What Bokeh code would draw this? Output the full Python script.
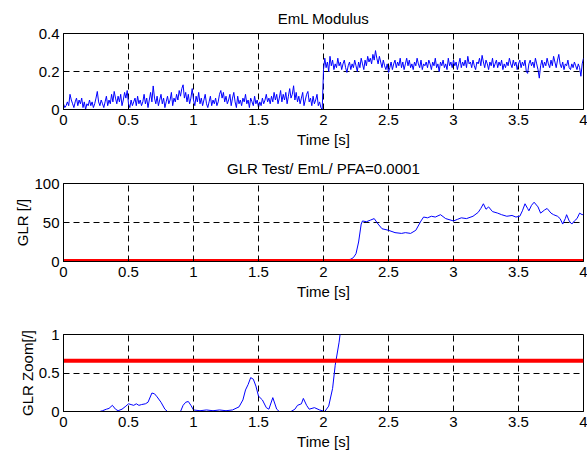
from bokeh.plotting import figure
from bokeh.layouts import column
from bokeh.models import Range1d, FixedTicker
from bokeh.embed import file_html
from bokeh.resources import INLINE

# ---------------- data ----------------
# EmL modulus, sampled every 0.01 s from 0 to 4 s
eml_low = [
    0.03, 0.01, 0.02, 0.04, 0.02, 0.08, 0.05, 0.03, 0.01, 0.04, 0.06, 0.02, 0.05, 0.03, 0.06, 0.01, 0.04, 0.00, 0.03, 0.02,
    0.05, 0.02, 0.04, 0.01, 0.03, 0.06, 0.095, 0.04, 0.02, 0.05, 0.03, 0.01, 0.04, 0.07, 0.02, 0.05, 0.03, 0.08, 0.04, 0.095,
    0.06, 0.03, 0.07, 0.04, 0.08, 0.02, 0.05, 0.09, 0.06, 0.10, 0.03, 0.01, 0.05, 0.02, 0.04, 0.06, 0.02, 0.07, 0.03, 0.05,
    0.02, 0.04, 0.08, 0.03, 0.06, 0.01, 0.05, 0.09, 0.04, 0.124, 0.06, 0.03, 0.07, 0.02, 0.05, 0.08, 0.03, 0.06, 0.01, 0.04,
    0.07, 0.03, 0.05, 0.09, 0.02, 0.06, 0.04, 0.08, 0.05, 0.10, 0.07, 0.11, 0.13, 0.06, 0.09, 0.04, 0.08, 0.03, 0.06, 0.11,
    0.05, 0.02, 0.07, 0.04, 0.09, 0.03, 0.06, 0.02, 0.05, 0.08, 0.03, 0.01, 0.04, 0.07, 0.02, 0.05, 0.03, 0.06, 0.02, 0.04,
    0.08, 0.10, 0.06, 0.09, 0.04, 0.07, 0.03, 0.05, 0.08, 0.02, 0.06, 0.09, 0.04, 0.01, 0.07, 0.03, 0.05, 0.02, 0.06, 0.04,
    0.08, 0.03, 0.05, 0.01, 0.06, 0.04, 0.02, 0.07, 0.03, 0.05, 0.01, 0.04, 0.02, 0.06, 0.03, 0.05, 0.08, 0.04, 0.06, 0.03,
    0.07, 0.04, 0.09, 0.05, 0.08, 0.03, 0.06, 0.10, 0.04, 0.08, 0.05, 0.09, 0.03, 0.07, 0.11, 0.06, 0.08, 0.125, 0.05, 0.09,
    0.04, 0.07, 0.03, 0.06, 0.09, 0.02, 0.05, 0.08, 0.095, 0.04, 0.06, 0.02, 0.07, 0.03, 0.05, 0.08, 0.02, 0.04, 0.01, 0.00,
]
eml_high = [
    0.21, 0.27, 0.22, 0.25, 0.20, 0.28, 0.23, 0.26, 0.21, 0.24, 0.22, 0.27, 0.23, 0.25, 0.21, 0.24, 0.26, 0.22, 0.195, 0.23,
    0.25, 0.21, 0.24, 0.22, 0.26, 0.23, 0.20, 0.25, 0.22, 0.27, 0.24, 0.21, 0.26, 0.23, 0.28, 0.25, 0.27, 0.24, 0.29, 0.26,
    0.31, 0.27, 0.24, 0.28, 0.25, 0.22, 0.26, 0.23, 0.21, 0.24, 0.195, 0.22, 0.25, 0.21, 0.24, 0.26, 0.22, 0.25, 0.23, 0.27,
    0.22, 0.25, 0.21, 0.24, 0.27, 0.23, 0.26, 0.22, 0.24, 0.21, 0.25, 0.23, 0.27, 0.24, 0.22, 0.26, 0.21, 0.24, 0.23, 0.25,
    0.22, 0.26, 0.24, 0.21, 0.25, 0.23, 0.27, 0.22, 0.24, 0.20, 0.25, 0.23, 0.26, 0.22, 0.24, 0.21, 0.27, 0.23, 0.25, 0.22,
    0.26, 0.23, 0.25, 0.21, 0.24, 0.27, 0.22, 0.25, 0.23, 0.26, 0.22, 0.28, 0.24, 0.25, 0.22, 0.26, 0.23, 0.21, 0.25, 0.24,
    0.27, 0.23, 0.285, 0.25, 0.22, 0.26, 0.24, 0.21, 0.25, 0.23, 0.27, 0.22, 0.24, 0.26, 0.22, 0.25, 0.23, 0.26, 0.21, 0.24,
    0.22, 0.25, 0.23, 0.27, 0.24, 0.22, 0.26, 0.23, 0.25, 0.21, 0.24, 0.26, 0.22, 0.25, 0.23, 0.26, 0.20, 0.19, 0.24, 0.26,
    0.23, 0.25, 0.22, 0.27, 0.24, 0.21, 0.165, 0.23, 0.26, 0.22, 0.25, 0.23, 0.27, 0.24, 0.22, 0.26, 0.23, 0.28, 0.25, 0.22,
    0.26, 0.29, 0.24, 0.22, 0.25, 0.21, 0.24, 0.23, 0.26, 0.22, 0.21, 0.24, 0.22, 0.25, 0.23, 0.21, 0.24, 0.22, 0.175, 0.24,
    0.27,
]
eml_values = eml_low + eml_high
eml_time = [i / 100 for i in range(len(eml_values))]

# GLR test statistic
glr_time = [
    0.00, 0.28, 0.30, 0.33, 0.35, 0.376, 0.40, 0.42, 0.45, 0.48, 0.50, 0.52, 0.54, 0.56, 0.58, 0.60, 0.63, 0.65,
    0.68, 0.70, 0.72, 0.75, 0.78, 0.80, 0.90, 0.92, 0.94, 0.96, 0.98, 1.00, 1.05, 1.10, 1.15, 1.20, 1.25, 1.30,
    1.35, 1.38, 1.40, 1.42, 1.44, 1.46, 1.48, 1.50, 1.53, 1.56, 1.58, 1.61, 1.64, 1.66, 1.75, 1.78, 1.80, 1.83,
    1.845, 1.87, 1.89, 1.93, 1.97, 2.01, 2.04, 2.07, 2.09, 2.12, 2.15, 2.18, 2.21, 2.23, 2.25, 2.27, 2.29, 2.30,
    2.33, 2.36, 2.39, 2.42, 2.45, 2.50, 2.55, 2.60, 2.63, 2.67, 2.71, 2.75, 2.77, 2.80, 2.83, 2.86, 2.90, 2.94,
    3.00, 3.03, 3.06, 3.10, 3.15, 3.19, 3.21, 3.23, 3.25, 3.27, 3.30, 3.34, 3.37, 3.41, 3.45, 3.48, 3.51, 3.53,
    3.55, 3.57, 3.58, 3.60, 3.62, 3.65, 3.67, 3.70, 3.72, 3.75, 3.77, 3.80, 3.82, 3.84, 3.86, 3.87, 3.89, 3.91,
    3.93, 3.95, 3.97, 3.99, 4.00,
]
glr_values = [
    0.0, 0.0, 0.01, 0.03, 0.04, 0.08, 0.03, 0.01, 0.03, 0.07, 0.10, 0.09, 0.08, 0.10, 0.08, 0.09, 0.10, 0.12,
    0.24, 0.23, 0.19, 0.12, 0.03, 0.0, 0.0, 0.08, 0.12, 0.13, 0.08, 0.02, 0.01, 0.02, 0.01, 0.02, 0.01, 0.02,
    0.06, 0.15, 0.28, 0.35, 0.44, 0.42, 0.33, 0.20, 0.15, 0.05, 0.03, 0.18, 0.03, 0.0, 0.0, 0.03, 0.08, 0.10,
    0.17, 0.08, 0.03, 0.05, 0.02, 0.0, 0.07, 0.3, 0.6, 0.9, 1.3, 1.8, 3.0, 5.0, 10.0, 25.0, 48.0, 52.0,
    51.0, 53.0, 55.0, 48.0, 42.0, 40.0, 37.0, 36.0, 37.0, 36.0, 40.0, 52.0, 57.0, 56.0, 58.0, 57.0, 60.0, 55.0,
    52.0, 54.0, 56.0, 55.0, 58.0, 63.0, 68.0, 74.0, 67.0, 70.0, 64.0, 62.0, 60.0, 58.0, 59.0, 57.0, 58.0, 65.0,
    74.0, 68.0, 65.0, 72.0, 76.0, 70.0, 62.0, 66.0, 68.0, 62.0, 60.0, 58.0, 55.0, 48.0, 55.0, 60.0, 52.0, 48.0,
    52.0, 55.0, 62.0, 60.0, 61.0,
]

# detection threshold (PFA = 0.0001)
threshold_time = [0.0, 4.0]
threshold_value = 0.66

x_ticks = [0, 0.5, 1, 1.5, 2, 2.5, 3, 3.5, 4]
x_tick_labels = ["0", "0.5", "1", "1.5", "2", "2.5", "3", "3.5", "4"]
y1_ticks = [0, 0.2, 0.4]
y1_tick_labels = ["0", "0.2", "0.4"]
y2_ticks = [0, 50, 100]
y2_tick_labels = ["0", "50", "100"]
y3_ticks = [0, 0.5, 1]
y3_tick_labels = ["0", "0.5", "1"]

FONT = "Liberation Sans"
FS = "15px"


def make_fig(height, top, bottom, ymax, yticks, ylabels, title, ylabel):
    p = figure(width=587, height=height, x_range=Range1d(0, 4), y_range=Range1d(0, ymax),
               output_backend="svg", toolbar_location=None,
               min_border_left=63, min_border_right=4, min_border_top=top, min_border_bottom=bottom)
    p.background_fill_color = "white"
    p.border_fill_color = "white"
    p.outline_line_color = "black"
    p.outline_line_width = 1
    if title:
        p.title.text = title
        p.title.align = "center"
        p.title.text_font = FONT
        p.title.text_font_size = FS
        p.title.text_font_style = "normal"
        p.title.text_color = "black"
        p.title.standoff = 14
    p.xaxis.ticker = FixedTicker(ticks=x_ticks)
    p.xaxis.major_label_overrides = {t: s for t, s in zip(x_ticks, x_tick_labels)}
    p.yaxis.ticker = FixedTicker(ticks=yticks)
    p.yaxis.major_label_overrides = {t: s for t, s in zip(yticks, ylabels)}
    p.xaxis.axis_label = "Time [s]"
    if ylabel:
        p.yaxis.axis_label = ylabel
    for ax in (p.xaxis, p.yaxis):
        ax.axis_line_color = "black"
        ax.major_tick_line_color = "black"
        ax.major_tick_in = 4
        ax.major_tick_out = 0
        ax.minor_tick_line_color = None
        ax.major_label_text_font = FONT
        ax.major_label_text_font_size = FS
        ax.major_label_text_color = "black"
        ax.axis_label_text_font = FONT
        ax.axis_label_text_font_size = FS
        ax.axis_label_text_font_style = "normal"
        ax.axis_label_text_color = "black"
    p.xaxis.major_label_standoff = 5
    p.xaxis.axis_label_standoff = 3
    p.yaxis.major_label_standoff = 4
    p.yaxis.axis_label_standoff = 0
    for g in (p.xgrid, p.ygrid):
        g.grid_line_color = "black"
        g.grid_line_dash = "6 4"
        g.grid_line_width = 1
    return p


p1 = make_fig(150, 33, 40, 0.4, y1_ticks, y1_tick_labels, "EmL Modulus", None)
p1.line(eml_time, eml_values, line_color="#0000ff", line_width=1)

p2 = make_fig(157, 33, 46, 100, y2_ticks, y2_tick_labels, "GLR Test/ EmL/ PFA=0.0001", "GLR [/]")
p2.line(glr_time, glr_values, line_color="#0000ff", line_width=1)
p2.line(threshold_time, [threshold_value] * len(threshold_time), line_color="#ff0000", line_width=4)

p3 = make_fig(150, 27, 46, 1, y3_ticks, y3_tick_labels, None, "GLR Zoom[/]")
p3.line(glr_time, glr_values, line_color="#0000ff", line_width=1)
p3.line(threshold_time, [threshold_value] * len(threshold_time), line_color="#ff0000", line_width=4)

layout = column(p1, p2, p3, spacing=0)
open("out.html", "w").write(file_html(layout, INLINE))
